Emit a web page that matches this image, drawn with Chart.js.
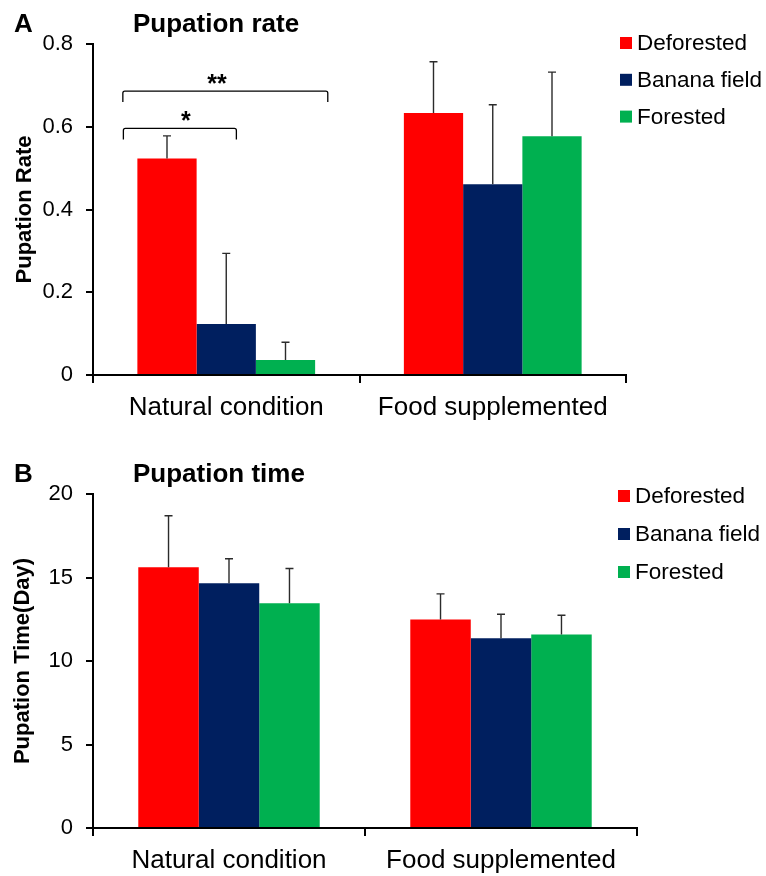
<!DOCTYPE html>
<html>
<head>
<meta charset="utf-8">
<script src="https://cdn.jsdelivr.net/npm/chart.js@4.4.1/dist/chart.umd.min.js"></script>
<style>
  html, body { margin: 0; padding: 0; background: #fff; }
  #wrap { position: relative; width: 766px; height: 876px; }
  #wrap canvas { position: absolute; left: 0; }
</style>
</head>
<body>
<div id="wrap">
  <canvas id="rateChart" width="766" height="438" style="top:0"></canvas>
  <canvas id="timeChart" width="766" height="438" style="top:438px"></canvas>
</div>
<script>
// categories and series
const categories = ['Natural condition', 'Food supplemented'];
const seriesNames = ['Deforested', 'Banana field', 'Forested'];
const seriesColors = ['#FF0000', '#001F5F', '#00B050'];

// panel A: pupation rate (mean, upper error)
const rateDeforested = [0.523, 0.633];
const rateBanana = [0.123, 0.461];
const rateForested = [0.036, 0.577];
const rateErrDeforested = [0.055, 0.124];
const rateErrBanana = [0.171, 0.192];
const rateErrForested = [0.043, 0.155];
const rateTicks = [0, 0.2, 0.4, 0.6, 0.8];

// panel B: pupation time in days
const timeDeforested = [15.62, 12.48];
const timeBanana = [14.66, 11.36];
const timeForested = [13.46, 11.58];
const timeErrDeforested = [3.08, 1.54];
const timeErrBanana = [1.46, 1.44];
const timeErrForested = [2.08, 1.16];
const timeTicks = [0, 5, 10, 15, 20];

// significance marks in panel A (category 0)
const sigLabels = ['*', '**'];

const FONT = "'Liberation Sans', Arial, Helvetica, sans-serif";

const errorBars = {
  id: 'errorBars',
  afterDatasetsDraw(chart) {
    const ctx = chart.ctx;
    const y = chart.scales.y;
    ctx.save();
    ctx.strokeStyle = '#2b2b2b';
    ctx.lineWidth = 1.4;
    chart.data.datasets.forEach((ds, i) => {
      chart.getDatasetMeta(i).data.forEach((bar, j) => {
        const top = y.getPixelForValue(ds.data[j] + ds.errors[j]);
        ctx.beginPath();
        ctx.moveTo(bar.x, bar.y);
        ctx.lineTo(bar.x, top);
        ctx.moveTo(bar.x - 4, top);
        ctx.lineTo(bar.x + 4, top);
        ctx.stroke();
      });
    });
    ctx.restore();
  }
};

const decorations = {
  id: 'decorations',
  afterDraw(chart, args, o) {
    const ctx = chart.ctx;
    ctx.save();
    ctx.fillStyle = '#000';
    ctx.textBaseline = 'alphabetic';
    ctx.textAlign = 'left';
    ctx.font = 'bold 26px ' + FONT;
    ctx.fillText(o.letter, 14, o.titleY);
    ctx.font = 'bold 26px ' + FONT;
    ctx.fillText(o.title, 133, o.titleY);

    // legend
    ctx.font = '22.5px ' + FONT;
    ctx.textBaseline = 'middle';
    chart.data.datasets.forEach((ds, i) => {
      const cy = o.legendY + i * o.legendGap;
      ctx.fillStyle = ds.backgroundColor;
      ctx.fillRect(o.legendX, cy - 6, 12, 12);
      ctx.fillStyle = '#000';
      ctx.fillText(ds.label, o.legendX + 17, cy + 1);
    });

    // significance brackets
    if (o.brackets) {
      const xs = chart.scales.x, ys = chart.scales.y;
      const catW = xs.getPixelForValue(1) - xs.getPixelForValue(0);
      ctx.strokeStyle = '#000';
      ctx.lineWidth = 1.3;
      ctx.textAlign = 'center';
      ctx.textBaseline = 'alphabetic';
      ctx.font = 'bold 25px ' + FONT;
      o.brackets.forEach(b => {
        const x0 = xs.getPixelForValue(0) + b.from * catW;
        const x1 = xs.getPixelForValue(0) + b.to * catW;
        const yl = ys.getPixelForValue(b.y);
        const yd = ys.getPixelForValue(b.y - b.drop);
        ctx.beginPath();
        ctx.moveTo(x0, yd);
        ctx.lineTo(x0, yl + 2);
        ctx.quadraticCurveTo(x0, yl, x0 + 2, yl);
        ctx.lineTo(x1 - 2, yl);
        ctx.quadraticCurveTo(x1, yl, x1, yl + 2);
        ctx.lineTo(x1, yd);
        ctx.stroke();
        ctx.fillText(b.label, xs.getPixelForValue(0) + b.textAt * catW, yl + 1);
      });
    }
    ctx.restore();
  }
};

function buildDatasets(vals, errs) {
  return seriesNames.map((name, i) => ({
    label: name,
    data: vals[i],
    errors: errs[i],
    backgroundColor: seriesColors[i],
    borderWidth: 0,
    barPercentage: 1,
    categoryPercentage: 0.667
  }));
}

function makePanel(canvasId, cfg) {
  new Chart(document.getElementById(canvasId), {
    type: 'bar',
    data: { labels: categories, datasets: buildDatasets(cfg.vals, cfg.errs) },
    options: {
      responsive: false,
      animation: false,
      devicePixelRatio: 1,
      layout: { padding: { top: cfg.top, right: cfg.right, left: 0, bottom: 0 } },
      plugins: {
        legend: { display: false },
        tooltip: { enabled: false },
        decorations: cfg.deco
      },
      scales: {
        x: {
          afterFit: (s) => { s.height = cfg.xHeight; },
          grid: { offset: true, drawOnChartArea: false, drawTicks: true, tickLength: 8, color: '#000', lineWidth: 2 },
          border: { display: true, color: '#000', width: 2 },
          ticks: { color: '#000', font: { family: FONT, size: 26 }, padding: 9 }
        },
        y: {
          min: cfg.ticks[0],
          max: cfg.ticks[cfg.ticks.length - 1],
          afterFit: (s) => { s.width = 93; },
          afterBuildTicks: (s) => { s.ticks = cfg.ticks.map(v => ({ value: v })); },
          grid: { drawOnChartArea: false, drawTicks: true, tickLength: 7, color: '#000', lineWidth: 2 },
          border: { display: true, color: '#000', width: 2 },
          ticks: { color: '#000', font: { family: FONT, size: 22 }, padding: 13 },
          title: { display: true, text: cfg.yTitle, color: '#000', font: { family: FONT, size: 22, weight: 'bold' }, padding: { top: cfg.titlePad, bottom: 0 } }
        }
      }
    },
    plugins: [errorBars, decorations]
  });
}

makePanel('rateChart', {
  vals: [rateDeforested, rateBanana, rateForested],
  errs: [rateErrDeforested, rateErrBanana, rateErrForested],
  ticks: rateTicks,
  yTitle: 'Pupation Rate',
  titlePad: 12,
  top: 44, right: 140, xHeight: 63,
  deco: {
    letter: 'A', title: 'Pupation rate', titleY: 32,
    legendX: 620, legendY: 43, legendGap: 36.8,
    brackets: [
      { label: sigLabels[0], from: -0.386, to: 0.038, y: 0.596, drop: 0.027, textAt: -0.152 },
      { label: sigLabels[1], from: -0.388, to: 0.381, y: 0.686, drop: 0.026, textAt: -0.035 }
    ]
  }
});

makePanel('timeChart', {
  vals: [timeDeforested, timeBanana, timeForested],
  errs: [timeErrDeforested, timeErrBanana, timeErrForested],
  ticks: timeTicks,
  yTitle: 'Pupation Time(Day)',
  titlePad: 10,
  top: 56, right: 129, xHeight: 48,
  deco: {
    letter: 'B', title: 'Pupation time', titleY: 44,
    legendX: 618, legendY: 58, legendGap: 38
  }
});
</script>
</body>
</html>
